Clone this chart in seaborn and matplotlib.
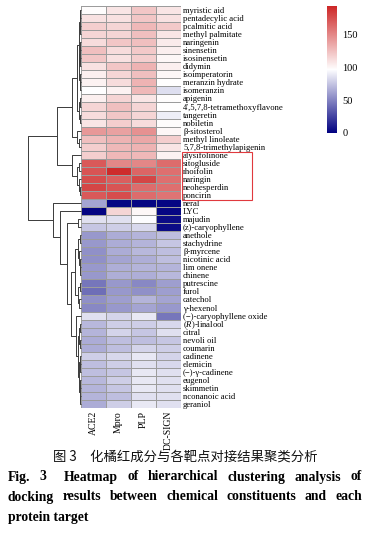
import numpy as np
import pandas as pd
import matplotlib
matplotlib.use('Agg')
import matplotlib.pyplot as plt
import seaborn as sns
from matplotlib.colors import LinearSegmentedColormap
from matplotlib.patches import Rectangle

sns.set_theme(style='white')
plt.rcParams['font.family'] = ['Liberation Serif', 'DejaVu Serif']
plt.rcParams['mathtext.fontset'] = 'custom'
plt.rcParams['mathtext.rm'] = 'Liberation Serif'
plt.rcParams['mathtext.it'] = 'Liberation Serif:italic'

# ---------------- data ----------------
targets = ['ACE2', 'Mpro', 'PLP', 'DC-SIGN']
compounds = ["myristic aid", "pentadecylic acid", "pcalmitic acid", "methyl palmitate",
             "naringenin", "sinensetin", "isosinensetin", "didymin", "isoimperatorin",
             "meranzin hydrate", "isomeranzin", "apigenin", "4′,5,7,8-tetramethoxyflavone",
             "tangeretin", "nobiletin", "β-sitosterol", "methyl linoleate",
             "5,7,8-trimethylapigenin", "alysifolinone", "sitogluside", "rhoifolin",
             "naringin", "neohesperdin", "poncirin", "neral", "LYC", "majudin",
             "(z)-caryophyllene", "anethole", "stachydrine", "β-myrcene", "nicotinic acid",
             "lim onene", "chinene", "putrescine", "furol", "catechol", "γ-hexenol",
             "(−)-caryophyllene oxide", "($\\mathit{R}$)-linalool", "citral", "nevoli oil",
             "coumarin", "cadinene", "elemicin", "(−)-γ-cadinene", "eugenol", "skimmetin",
             "nconanoic acid", "geraniol"]

ace2 = [98, 110, 118, 115, 112, 125, 122, 110, 104, 102, 96, 104, 115, 112, 108, 142, 125,
        118, 118, 170, 172, 175, 178, 170, 62, 2, 85, 75, 58, 58, 55, 55, 58, 58, 45, 42,
        55, 52, 85, 70, 68, 65, 65, 78, 72, 72, 70, 68, 68, 65]
mpro = [108, 110, 115, 115, 122, 112, 110, 122, 115, 112, 102, 116, 125, 122, 118, 138, 130,
        128, 128, 150, 190, 168, 172, 175, 3, 115, 85, 78, 65, 65, 65, 62, 66, 66, 58, 58,
        60, 58, 80, 78, 80, 72, 72, 82, 78, 75, 78, 75, 72, 78]
plp = [122, 122, 128, 125, 125, 120, 118, 130, 125, 130, 128, 108, 115, 115, 112, 145, 135,
       130, 128, 150, 165, 178, 162, 162, 3, 100, 95, 82, 68, 68, 70, 66, 68, 66, 52, 55,
       68, 62, 88, 78, 75, 72, 80, 88, 85, 88, 88, 88, 85, 88]
dcsign = [108, 110, 120, 108, 105, 104, 100, 104, 100, 97, 84, 98, 97, 90, 98, 100, 118,
          108, 102, 162, 160, 160, 160, 158, 3, 3, 5, 5, 72, 75, 72, 72, 68, 70, 60, 60,
          62, 58, 45, 82, 85, 75, 78, 80, 82, 85, 85, 85, 85, 85]
cbar_ticks = [0, 50, 100, 150]

# row dendrogram: (height, left, right), leaves = row indices
row_tree = (53,
            (24,
             (9,
              (4,
               (2.5,
                (1.5, (0.8, 0, 1), (0.8, 2, 3)),
                (2.0, (1.2, (0.6, 4, 5), (0.6, 6, 7)), (1.2, 8, (0.6, 9, 10)))),
               (2.5, (1.5, 11, 12), (0.8, 13, 14))),
              (4, 15, (2, 16, 17))),
             (9, 18, (4, (2.5, 19, 20), (2.5, 21, (1.5, 22, 23))))),
            (28, 24,
             (21, 25,
              (14, (3, 26, 27),
               (10,
                (6, (3, (1.5, 28, 29), (2, 30, (1, 31, (0.6, 32, 33)))),
                 (3.5, (1.5, 34, 35), (2, 36, 37))),
                (5, 38,
                 (3, (2, (1, 39, 40), (1.2, 41, 42)),
                  (2.2, (1.2, 43, (0.7, 44, 45)),
                   (1.5, (0.8, 46, 47), (0.8, 48, 49))))))))))

df = pd.DataFrame({'ACE2': ace2, 'Mpro': mpro, 'PLP': plp, 'DC-SIGN': dcsign},
                  index=compounds)[targets]

# ---------------- layout ----------------
W, H = 368, 540
fig = plt.figure(figsize=(W / 100, H / 100), dpi=100)


def rect(x0, y0, x1, y1):
    return [x0 / W, 1 - y1 / H, (x1 - x0) / W, (y1 - y0) / H]


ax = fig.add_axes(rect(81, 6, 181, 408))
cax = fig.add_axes(rect(327, 6, 337, 133))
dax = fig.add_axes(rect(28, 6, 81, 408))

cmap = LinearSegmentedColormap.from_list('pheat', ['#000080', '#ffffff', '#CD2626'], N=256)
sns.heatmap(df, ax=ax, cmap=cmap, vmin=0, vmax=193, linewidths=0.6, linecolor='#9c9c9c',
            cbar_ax=cax, xticklabels=True, yticklabels=True,
            cbar_kws={'ticks': cbar_ticks})

ax.set_xlabel('')
ax.set_ylabel('')
ax.yaxis.tick_right()
ax.set_yticks(np.arange(len(compounds)) + 0.5)
ax.set_yticklabels(compounds, rotation=0, fontsize=6.2, color='black')
ax.tick_params(axis='y', length=0, pad=1.5)
ax.set_xticklabels(targets, rotation=90, fontsize=7, color='black')
ax.tick_params(axis='x', length=0, pad=2)

cbar = ax.collections[0].colorbar
cbar.outline.set_visible(False)
cax.tick_params(length=0, labelsize=7.5, pad=4, colors='black')

# red box around selected labels
ax.add_patch(Rectangle((4.04, 18.16), 2.8, 5.97, fill=False, edgecolor='#e0393e',
                       lw=0.8, clip_on=False, transform=ax.transData))

# dendrogram
dax.set_ylim(len(compounds), 0)
dax.set_xlim(row_tree[0], 0)
dax.axis('off')


def draw(node):
    if isinstance(node, int):
        return node + 0.5, 0.0
    h, l, r = node
    yl, hl = draw(l)
    yr, hr = draw(r)
    dax.plot([hl, h, h, hr], [yl, yl, yr, yr], color='#3a3a3a', lw=0.7,
             clip_on=False, solid_capstyle='butt')
    return (yl + yr) / 2, h


draw(row_tree)

# ---------------- captions ----------------
fig.text(185 / W, 1 - 457 / H, '图 3\u3000化橘红成分与各靶点对接结果聚类分析',
         family=['Noto Sans CJK SC', 'DejaVu Sans'], fontsize=9.6,
         ha='center', va='center', color='#111111')

renderer = fig.canvas.get_renderer()
cap_kw = dict(fontsize=9.8, fontweight='bold', family=['Liberation Serif'],
              va='center', ha='left', color='black')


def justify(words, ypx, x0, x1, extra=None):
    texts = [fig.text(0, 1 - ypx / H, w, **cap_kw) for w in words]
    widths = [t.get_window_extent(renderer).width for t in texts]
    extra = extra or {}
    gap = (x1 - x0 - sum(widths) - sum(extra.values())) / (len(words) - 1)
    x = x0
    for i, (t, w) in enumerate(zip(texts, widths)):
        t.set_x(x / W)
        x += w + gap + extra.get(i, 0)


justify(['Fig.', '3', 'Heatmap', 'of', 'hierarchical', 'clustering', 'analysis', 'of'],
        477, 8, 362, extra={1: 8})
justify(['docking', 'results', 'between', 'chemical', 'constituents', 'and', 'each'],
        497, 8, 362)
fig.text(8 / W, 1 - 518 / H, 'protein target', **cap_kw)

fig.savefig('out.png', dpi=100)
